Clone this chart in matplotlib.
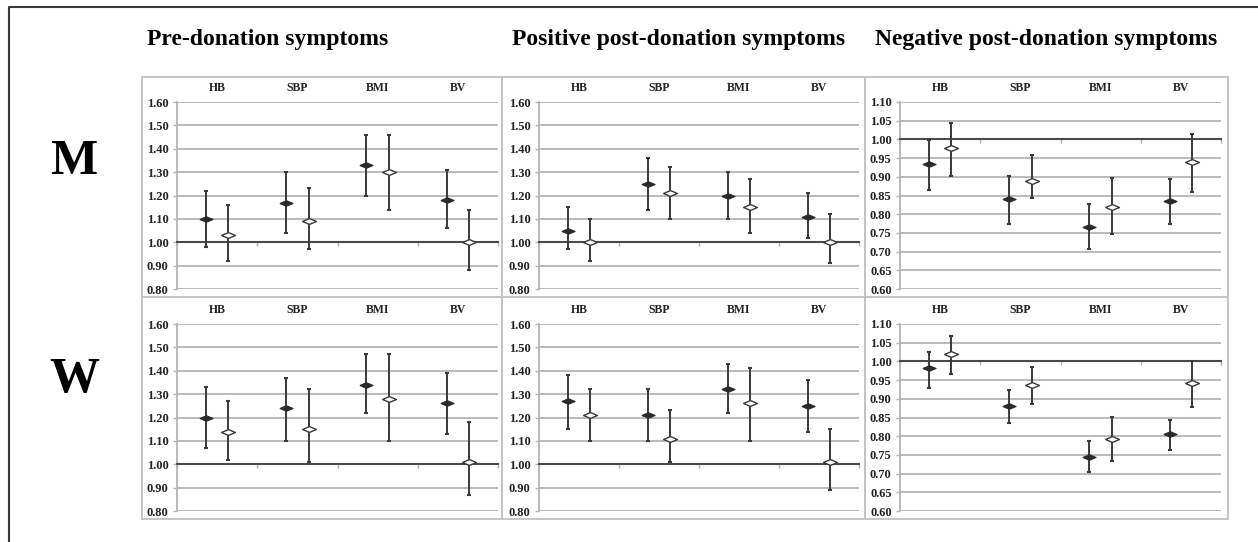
import matplotlib
matplotlib.use("Agg")
import matplotlib.pyplot as plt
from matplotlib.path import Path
from matplotlib.patches import Rectangle
from matplotlib.lines import Line2D
import numpy as np

plt.rcParams["font.family"] = ["Liberation Serif", "DejaVu Serif"]
plt.rcParams["font.weight"] = "bold"

categories = ["HB", "SBP", "BMI", "BV"]
col_titles = ["Pre-donation symptoms", "Positive post-donation symptoms", "Negative post-donation symptoms"]
row_labels = ["M", "W"]

# dark (filled) and open diamonds: estimate, lower and upper bound per category
m_pre_dark = [1.10, 1.17, 1.33, 1.18]
m_pre_dark_lo = [0.98, 1.04, 1.20, 1.06]
m_pre_dark_hi = [1.22, 1.30, 1.46, 1.31]
m_pre_open = [1.03, 1.09, 1.30, 1.00]
m_pre_open_lo = [0.92, 0.97, 1.14, 0.88]
m_pre_open_hi = [1.16, 1.23, 1.46, 1.14]

m_pos_dark = [1.05, 1.25, 1.20, 1.11]
m_pos_dark_lo = [0.97, 1.14, 1.10, 1.02]
m_pos_dark_hi = [1.15, 1.36, 1.30, 1.21]
m_pos_open = [1.00, 1.21, 1.15, 1.00]
m_pos_open_lo = [0.92, 1.10, 1.04, 0.91]
m_pos_open_hi = [1.10, 1.32, 1.27, 1.12]

m_neg_dark = [0.934, 0.840, 0.765, 0.834]
m_neg_dark_lo = [0.865, 0.775, 0.706, 0.775]
m_neg_dark_hi = [0.999, 0.902, 0.827, 0.894]
m_neg_open = [0.977, 0.890, 0.820, 0.940]
m_neg_open_lo = [0.901, 0.842, 0.748, 0.860]
m_neg_open_hi = [1.045, 0.957, 0.898, 1.015]

w_pre_dark = [1.20, 1.24, 1.34, 1.26]
w_pre_dark_lo = [1.07, 1.10, 1.22, 1.13]
w_pre_dark_hi = [1.33, 1.37, 1.47, 1.39]
w_pre_open = [1.14, 1.15, 1.28, 1.01]
w_pre_open_lo = [1.02, 1.01, 1.10, 0.87]
w_pre_open_hi = [1.27, 1.32, 1.47, 1.18]

w_pos_dark = [1.27, 1.21, 1.32, 1.25]
w_pos_dark_lo = [1.15, 1.10, 1.22, 1.14]
w_pos_dark_hi = [1.38, 1.32, 1.43, 1.36]
w_pos_open = [1.21, 1.11, 1.26, 1.01]
w_pos_open_lo = [1.10, 1.01, 1.10, 0.89]
w_pos_open_hi = [1.32, 1.23, 1.41, 1.15]

w_neg_dark = [0.982, 0.882, 0.744, 0.806]
w_neg_dark_lo = [0.929, 0.836, 0.705, 0.764]
w_neg_dark_hi = [1.025, 0.924, 0.788, 0.844]
w_neg_open = [1.021, 0.938, 0.793, 0.941]
w_neg_open_lo = [0.965, 0.886, 0.735, 0.877]
w_neg_open_hi = [1.067, 0.985, 0.851, 1.001]

panels = [
    [(m_pre_dark, m_pre_dark_lo, m_pre_dark_hi, m_pre_open, m_pre_open_lo, m_pre_open_hi),
     (m_pos_dark, m_pos_dark_lo, m_pos_dark_hi, m_pos_open, m_pos_open_lo, m_pos_open_hi),
     (m_neg_dark, m_neg_dark_lo, m_neg_dark_hi, m_neg_open, m_neg_open_lo, m_neg_open_hi)],
    [(w_pre_dark, w_pre_dark_lo, w_pre_dark_hi, w_pre_open, w_pre_open_lo, w_pre_open_hi),
     (w_pos_dark, w_pos_dark_lo, w_pos_dark_hi, w_pos_open, w_pos_open_lo, w_pos_open_hi),
     (w_neg_dark, w_neg_dark_lo, w_neg_dark_hi, w_neg_open, w_neg_open_lo, w_neg_open_hi)],
]

W, H = 1258, 542
fig = plt.figure(figsize=(W / 100, H / 100), dpi=100)


def fx(px):
    return px / W


def fy(py):
    return 1 - py / H


diamond = Path([(-1, 0), (0, 0.42), (1, 0), (0, -0.42), (-1, 0)])

# outer frame (left and top edges visible)
fig.add_artist(Line2D([fx(9), fx(9), fx(W + 5)], [fy(H + 5), fy(7), fy(7)],
                      transform=fig.transFigure, color="#3a3a3a", lw=1.5))

box_x = [(142, 502), (502, 865), (865, 1228)]
box_y = [(77, 297), (297, 519)]
plot_x = [(177, 498), (539, 859), (900, 1221)]
plot_y = [(102, 289), (324, 511)]
title_x = [268, 679, 1046]

for c, t in enumerate(col_titles):
    fig.text(fx(title_x[c]), fy(39), t, ha="center", va="center", fontsize=17, fontweight="bold")
for r, lab in enumerate(row_labels):
    fig.text(fx(74), fy([162, 380][r]), lab, ha="center", va="center", fontsize=36, fontweight="bold")

x = np.arange(1, len(categories) + 1)
off = 0.14
for r in range(2):
    for c in range(3):
        bx0, bx1 = box_x[c]
        by0, by1 = box_y[r]
        fig.add_artist(Rectangle((fx(bx0), fy(by1)), fx(bx1) - fx(bx0), fy(by0) - fy(by1),
                                 transform=fig.transFigure, fill=False, ec="#c4c4c4", lw=1.4))
        x0, x1 = plot_x[c]
        y0, y1 = plot_y[r]
        ax = fig.add_axes([fx(x0), fy(y1), fx(x1) - fx(x0), fy(y0) - fy(y1)])
        dark, dlo, dhi, opn, olo, ohi = panels[r][c]
        if c == 2:
            ax.set_ylim(0.60, 1.10)
            yt = np.arange(0.60, 1.1001, 0.05)
        else:
            ax.set_ylim(0.80, 1.60)
            yt = np.arange(0.80, 1.6001, 0.10)
        ax.set_xlim(0.5, 4.5)
        ax.set_yticks(yt)
        ax.set_yticklabels([f"{v:.2f}" for v in yt])
        ax.yaxis.grid(True, color="#b4b4b4", lw=1.3)
        ax.set_axisbelow(True)
        for s in ["top", "right"]:
            ax.spines[s].set_visible(False)
        ax.spines["left"].set_color("#b4b4b4")
        ax.spines["left"].set_linewidth(1.3)
        ax.spines["bottom"].set_position(("data", 1.0))
        ax.spines["bottom"].set_color("#4a4a4a")
        ax.spines["bottom"].set_linewidth(1.5)
        ax.set_xticks([0.5, 1.5, 2.5, 3.5, 4.5])
        ax.set_xticklabels([])
        ax.tick_params(axis="x", length=3, color="#b4b4b4", width=1)
        ax.tick_params(axis="y", length=3, color="#b4b4b4", width=1, pad=3,
                       labelsize=9, labelcolor="#222222")
        for lbl in ax.get_yticklabels():
            lbl.set_fontweight("bold")
        for i, cat in enumerate(categories):
            ax.annotate(cat, (x[i], 1), xycoords=("data", "axes fraction"), xytext=(0, 10),
                        textcoords="offset points", ha="center", va="center",
                        fontsize=8.5, fontweight="bold", color="#222222", annotation_clip=False)
        dark = np.array(dark); opn = np.array(opn)
        ax.errorbar(x - off, dark, yerr=[dark - np.array(dlo), np.array(dhi) - dark], fmt="none",
                    ecolor="#3a3a3a", elinewidth=1.4, capsize=1.5, capthick=1.5, zorder=3)
        ax.errorbar(x + off, opn, yerr=[opn - np.array(olo), np.array(ohi) - opn], fmt="none",
                    ecolor="#3a3a3a", elinewidth=1.4, capsize=1.5, capthick=1.5, zorder=3)
        ax.plot(x - off, dark, ls="none", marker=diamond, ms=9.5, mfc="#2a2a2a", mec="#2a2a2a",
                mew=0.8, zorder=4)
        ax.plot(x + off, opn, ls="none", marker=diamond, ms=10, mfc="white", mec="#3a3a3a",
                mew=1.0, zorder=4)

fig.savefig("out.png", dpi=100)
